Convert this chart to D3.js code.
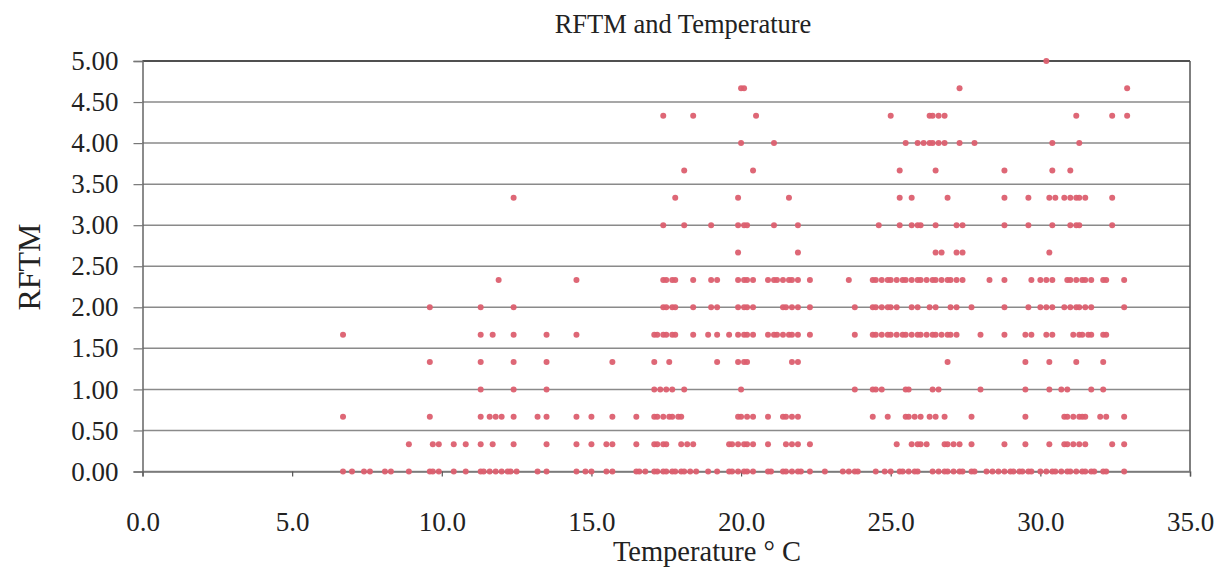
<!DOCTYPE html>
<html><head><meta charset="utf-8">
<script src="https://cdn.jsdelivr.net/npm/d3@7"></script>
<style>
html,body{margin:0;padding:0;background:#fff;}
svg{display:block;}
text{font-family:"Liberation Serif","DejaVu Serif",serif;fill:#222;}
</style></head>
<body>
<svg id="chart" width="1218" height="569"></svg>
<script>
// ---- data ----
const chartTitle = "RFTM and Temperature";
const xTitle = "Temperature \u00B0 C";
const yTitle = "RFTM";
const xTicks = [0, 5, 10, 15, 20, 25, 30, 35];
const yTicks = [0, 0.5, 1, 1.5, 2, 2.5, 3, 3.5, 4, 4.5, 5];

const temps_5_00 = [30.2];
const temps_4_67 = [20.0, 20.1, 27.3, 32.9];
const temps_4_33 = [17.4, 18.4, 20.5, 25.0, 26.3, 26.4, 26.6, 26.8, 31.2, 32.4, 32.9];
const temps_4_00 = [20.0, 21.1, 25.5, 25.9, 26.1, 26.3, 26.4, 26.6, 26.8, 27.3, 27.8, 30.4, 31.3];
const temps_3_67 = [18.1, 20.4, 25.3, 26.5, 28.8, 30.4, 31.0];
const temps_3_33 = [12.4, 17.8, 19.9, 21.6, 25.3, 25.7, 26.9, 28.8, 29.6, 30.3, 30.5, 30.8, 31.0, 31.2, 31.3, 31.5, 32.4];
const temps_3_00 = [17.4, 18.1, 19.0, 19.9, 20.1, 20.2, 21.1, 21.9, 24.6, 25.3, 25.7, 25.9, 26.0, 26.5, 27.2, 27.4, 28.8, 29.6, 30.4, 31.0, 31.2, 31.3, 32.4];
const temps_2_67 = [19.9, 21.9, 26.5, 26.7, 27.2, 27.4, 30.3];
const temps_2_33 = [11.9, 14.5, 17.4, 17.5, 17.7, 17.8, 18.4, 19.0, 19.2, 19.9, 20.1, 20.2, 20.4, 20.9, 21.1, 21.2, 21.4, 21.6, 21.7, 21.9, 22.3, 23.6, 24.4, 24.5, 24.7, 24.9, 25.0, 25.2, 25.4, 25.5, 25.7, 25.9, 26.0, 26.2, 26.4, 26.5, 26.7, 26.9, 27.0, 27.2, 27.4, 28.3, 28.8, 29.7, 30.0, 30.2, 30.4, 30.9, 31.0, 31.2, 31.4, 31.5, 31.7, 32.1, 32.2, 32.8];
const temps_2_00 = [9.6, 11.3, 12.4, 17.4, 17.5, 17.7, 17.8, 18.4, 19.0, 19.2, 19.9, 20.1, 20.2, 20.4, 21.4, 21.5, 21.7, 21.9, 22.3, 23.8, 24.4, 24.5, 24.7, 24.9, 25.0, 25.2, 25.7, 25.9, 26.3, 26.5, 27.0, 27.2, 27.7, 28.8, 29.6, 30.0, 30.2, 30.4, 30.8, 31.0, 31.2, 31.3, 31.5, 31.7, 32.8];
const temps_1_67 = [6.7, 11.3, 11.7, 12.4, 13.5, 14.5, 17.1, 17.2, 17.4, 17.5, 17.7, 17.8, 18.4, 18.9, 19.2, 19.6, 19.9, 20.1, 20.2, 20.4, 20.9, 21.1, 21.2, 21.4, 21.6, 21.7, 21.9, 22.3, 23.8, 24.4, 24.5, 24.7, 24.9, 25.0, 25.2, 25.4, 25.5, 25.7, 25.9, 26.0, 26.2, 26.4, 26.5, 26.7, 26.9, 27.0, 27.2, 28.0, 28.8, 29.5, 29.7, 30.2, 30.4, 31.1, 31.3, 31.4, 31.6, 31.7, 32.1, 32.2];
const temps_1_33 = [9.6, 11.3, 12.4, 13.5, 15.7, 17.1, 17.6, 19.2, 19.9, 20.1, 20.2, 21.7, 21.9, 26.9, 29.5, 30.3, 31.2, 32.1];
const temps_1_00 = [11.3, 12.4, 13.5, 17.1, 17.3, 17.5, 17.7, 18.1, 20.0, 23.8, 24.4, 24.5, 24.7, 25.5, 25.6, 26.4, 26.6, 28.0, 29.5, 30.3, 30.7, 30.9, 31.7, 32.1];
const temps_0_67 = [6.7, 9.6, 11.3, 11.6, 11.8, 12.0, 12.4, 13.2, 13.5, 14.5, 15.0, 15.7, 16.5, 17.1, 17.2, 17.4, 17.6, 17.7, 17.9, 18.0, 19.9, 20.0, 20.2, 20.4, 20.9, 21.4, 21.5, 21.7, 21.9, 24.4, 24.9, 25.5, 25.6, 25.8, 26.0, 26.3, 26.5, 26.8, 27.7, 29.5, 30.8, 30.9, 31.1, 31.3, 31.4, 31.5, 32.0, 32.2, 32.8];
const temps_0_33 = [8.9, 9.7, 9.9, 10.4, 10.8, 11.3, 11.7, 12.4, 13.5, 14.5, 15.0, 15.5, 15.7, 16.5, 17.1, 17.2, 17.4, 17.5, 18.0, 18.2, 18.4, 19.6, 19.7, 19.9, 20.1, 20.2, 20.4, 20.9, 21.5, 21.7, 21.9, 22.3, 25.2, 25.7, 25.9, 26.0, 26.2, 26.8, 26.9, 27.1, 27.3, 27.7, 28.8, 29.5, 30.3, 30.8, 30.9, 31.1, 31.3, 31.5, 32.4, 32.8];
const temps_0_00 = [6.7, 7.0, 7.4, 7.6, 8.1, 8.3, 8.9, 9.6, 9.7, 9.9, 10.4, 10.8, 11.3, 11.4, 11.6, 11.8, 12.0, 12.2, 12.3, 12.5, 13.2, 13.5, 14.5, 14.8, 15.0, 15.5, 15.7, 16.5, 16.6, 16.8, 17.1, 17.2, 17.4, 17.5, 17.7, 17.8, 18.0, 18.1, 18.3, 18.5, 18.9, 19.2, 19.6, 19.7, 19.9, 20.1, 20.2, 20.4, 20.9, 21.0, 21.4, 21.5, 21.7, 21.9, 22.0, 22.3, 22.8, 23.4, 23.6, 23.8, 23.9, 24.5, 24.8, 25.0, 25.3, 25.4, 25.6, 25.8, 25.9, 26.4, 26.6, 26.8, 26.9, 27.1, 27.3, 27.4, 27.7, 27.8, 28.2, 28.4, 28.6, 28.8, 29.0, 29.1, 29.3, 29.4, 29.6, 29.7, 30.0, 30.2, 30.4, 30.5, 30.7, 30.9, 31.0, 31.2, 31.4, 31.5, 31.7, 31.8, 32.1, 32.2, 32.8];

const rftmLevels = [0, 1/3, 2/3, 1, 4/3, 5/3, 2, 7/3, 8/3, 3, 10/3, 11/3, 4, 13/3, 14/3, 5];
const tempsPerLevel = [temps_0_00, temps_0_33, temps_0_67, temps_1_00, temps_1_33, temps_1_67, temps_2_00, temps_2_33, temps_2_67, temps_3_00, temps_3_33, temps_3_67, temps_4_00, temps_4_33, temps_4_67, temps_5_00];

const points = [];
rftmLevels.forEach((lv, i) => tempsPerLevel[i].forEach(t => points.push({t: t, r: lv})));

// ---- layout ----
const svg = d3.select("#chart");
const plotL = 142.5, plotR = 1190, plotT = 61, plotB = 471.5;
const x = d3.scaleLinear().domain([0, 35]).range([plotL, plotR]);
const y = d3.scaleLinear().domain([0, 5]).range([plotB, plotT]);

// gridlines
svg.append("g").selectAll("line").data(yTicks).join("line")
  .attr("x1", plotL).attr("x2", plotR)
  .attr("y1", d => y(d)).attr("y2", d => y(d))
  .attr("stroke", "#8a8a8a").attr("stroke-width", 1.5);

// plot border (top & right)
svg.append("line").attr("x1", plotL).attr("x2", plotR).attr("y1", plotT).attr("y2", plotT)
  .attr("stroke", "#333").attr("stroke-width", 1.5);
svg.append("line").attr("x1", plotR).attr("x2", plotR).attr("y1", plotT).attr("y2", plotB)
  .attr("stroke", "#555").attr("stroke-width", 1.5);

// y axis
const yAxis = d3.axisLeft(y).tickValues(yTicks).tickFormat(d3.format(".2f")).tickSize(9).tickPadding(15);
const gy = svg.append("g").attr("transform", `translate(${plotL},0)`).call(yAxis);
gy.select(".domain").attr("stroke", "#666").attr("stroke-width", 1.5);
gy.selectAll(".tick line").attr("stroke", "#777").attr("stroke-width", 1.2);
gy.selectAll(".tick text").style("font-size", "27px").attr("fill", "#222")
  .style("font-family", "'Liberation Serif', serif");

// x axis
const xAxis = d3.axisBottom(x).tickValues(xTicks).tickFormat(d3.format(".1f")).tickSize(5).tickPadding(35);
const gx = svg.append("g").attr("transform", `translate(0,${plotB})`).call(xAxis);
gx.select(".domain").attr("stroke", "#777").attr("stroke-width", 1.5);
gx.selectAll(".tick line").attr("stroke", "#555").attr("stroke-width", 1.2);
gx.selectAll(".tick text").style("font-size", "27px").attr("fill", "#222")
  .style("font-family", "'Liberation Serif', serif");

// points
svg.append("g").selectAll("circle").data(points).join("circle")
  .attr("cx", d => x(d.t)).attr("cy", d => y(d.r)).attr("r", 3)
  .attr("fill", "#dc5f6f").attr("opacity", 0.95);

// titles
svg.append("text").attr("x", 683).attr("y", 33).attr("text-anchor", "middle")
  .style("font-size", "26.5px").attr("fill", "#333").text(chartTitle);
svg.append("text").attr("x", 707).attr("y", 561).attr("text-anchor", "middle")
  .style("font-size", "28.5px").text(xTitle);
svg.append("text").attr("transform", "translate(40,267) rotate(-90)").attr("text-anchor", "middle")
  .style("font-size", "32px").attr("fill", "#444").text(yTitle);
</script>
</body></html>
